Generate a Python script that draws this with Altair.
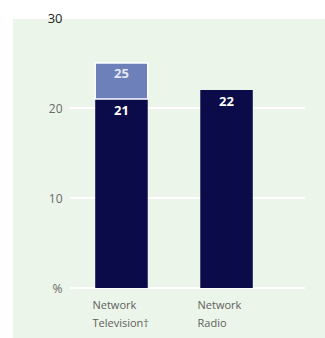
import altair as alt
import pandas as pd

# Share of audience, by medium (%)
categories = ["Network\nTelevision\u2020", "Network\nRadio"]
base_values = [21, 22]
top_values = [25, None]
grid_values = [0, 10, 20]

PANEL = "#ebf5e9"
DARK = "#0b0b4a"
LIGHT = "#6e80b9"
FONT = "Open Sans"

bars = pd.DataFrame({"medium": categories, "base": base_values, "top": top_values})
bars["zero"] = 0
upper = bars.dropna(subset=["top"])

x_enc = alt.X(
    "medium:N",
    sort=categories,
    scale=alt.Scale(range=[0, 208], paddingInner=0.5, paddingOuter=0.24),
    axis=alt.Axis(
        title=None,
        domain=False,
        ticks=False,
        zindex=1,
        labelAlign="left",
        labelAngle=0,
        labelOffset=-29,
        labelPadding=11,
        labelBaseline="top",
        labelExpr="split(datum.label, '\\n')",
        labelLineHeight=18,
        labelFontSize=11,
        labelColor="#606060",
        labelFont=FONT,
    ),
)

y_scale = alt.Scale(domain=[0, 30], nice=False)
y_axis = alt.Axis(
    title=None,
    values=[0, 10, 20, 30],
    domain=False,
    ticks=False,
    grid=False,
    zindex=1,
    labelPadding=8,
    labelFont=FONT,
    labelExpr="datum.value == 0 ? '%' : datum.label",
    labelColor=alt.ExprRef(expr="datum.value == 30 ? '#222222' : '#6a6a6a'"),
    labelFontSize=alt.ExprRef(expr="datum.value == 30 ? 13 : 12"),
)

panel = (
    alt.Chart(pd.DataFrame({"p": [0]}))
    .mark_rect(color=PANEL)
    .encode(x=alt.value(-57), x2=alt.value(260), y=alt.value(1), y2=alt.value(330))
)

grid = (
    alt.Chart(pd.DataFrame({"v": grid_values}))
    .mark_rule(color="white", strokeWidth=2)
    .encode(x=alt.value(0), x2=alt.value(235), y=alt.Y("v:Q", scale=y_scale))
)

base_bars = alt.Chart(bars).mark_bar(color=DARK).encode(
    x=x_enc,
    y=alt.Y("base:Q", scale=y_scale, axis=y_axis),
    y2="zero:Q",
)

top_bars = alt.Chart(upper).mark_bar(color=LIGHT, stroke="white", strokeWidth=1.5).encode(
    x=alt.X("medium:N", sort=categories),
    y="top:Q",
    y2="base:Q",
)

base_labels = alt.Chart(bars).mark_text(
    color="white", fontWeight="bold", fontSize=13, font=FONT, dy=12
).encode(
    x=alt.X("medium:N", sort=categories, bandPosition=0.5),
    y="base:Q",
    text="base:Q",
)

top_labels = alt.Chart(upper).mark_text(
    color="#e4e8f4", fontWeight="bold", fontSize=13, font=FONT, dy=11
).encode(
    x=alt.X("medium:N", sort=categories, bandPosition=0.5),
    y="top:Q",
    text="top:Q",
)

chart = (
    alt.layer(panel, grid, base_bars, top_bars, base_labels, top_labels)
    .properties(
        width=235,
        height=270,
        padding={"left": 70, "top": 18, "right": 20, "bottom": 50},
        autosize=alt.AutoSizeParams(type="none"),
        background="white",
    )
    .configure_view(stroke=None)
)

chart.save("out.html", embed_options={"renderer": "svg", "actions": False})
